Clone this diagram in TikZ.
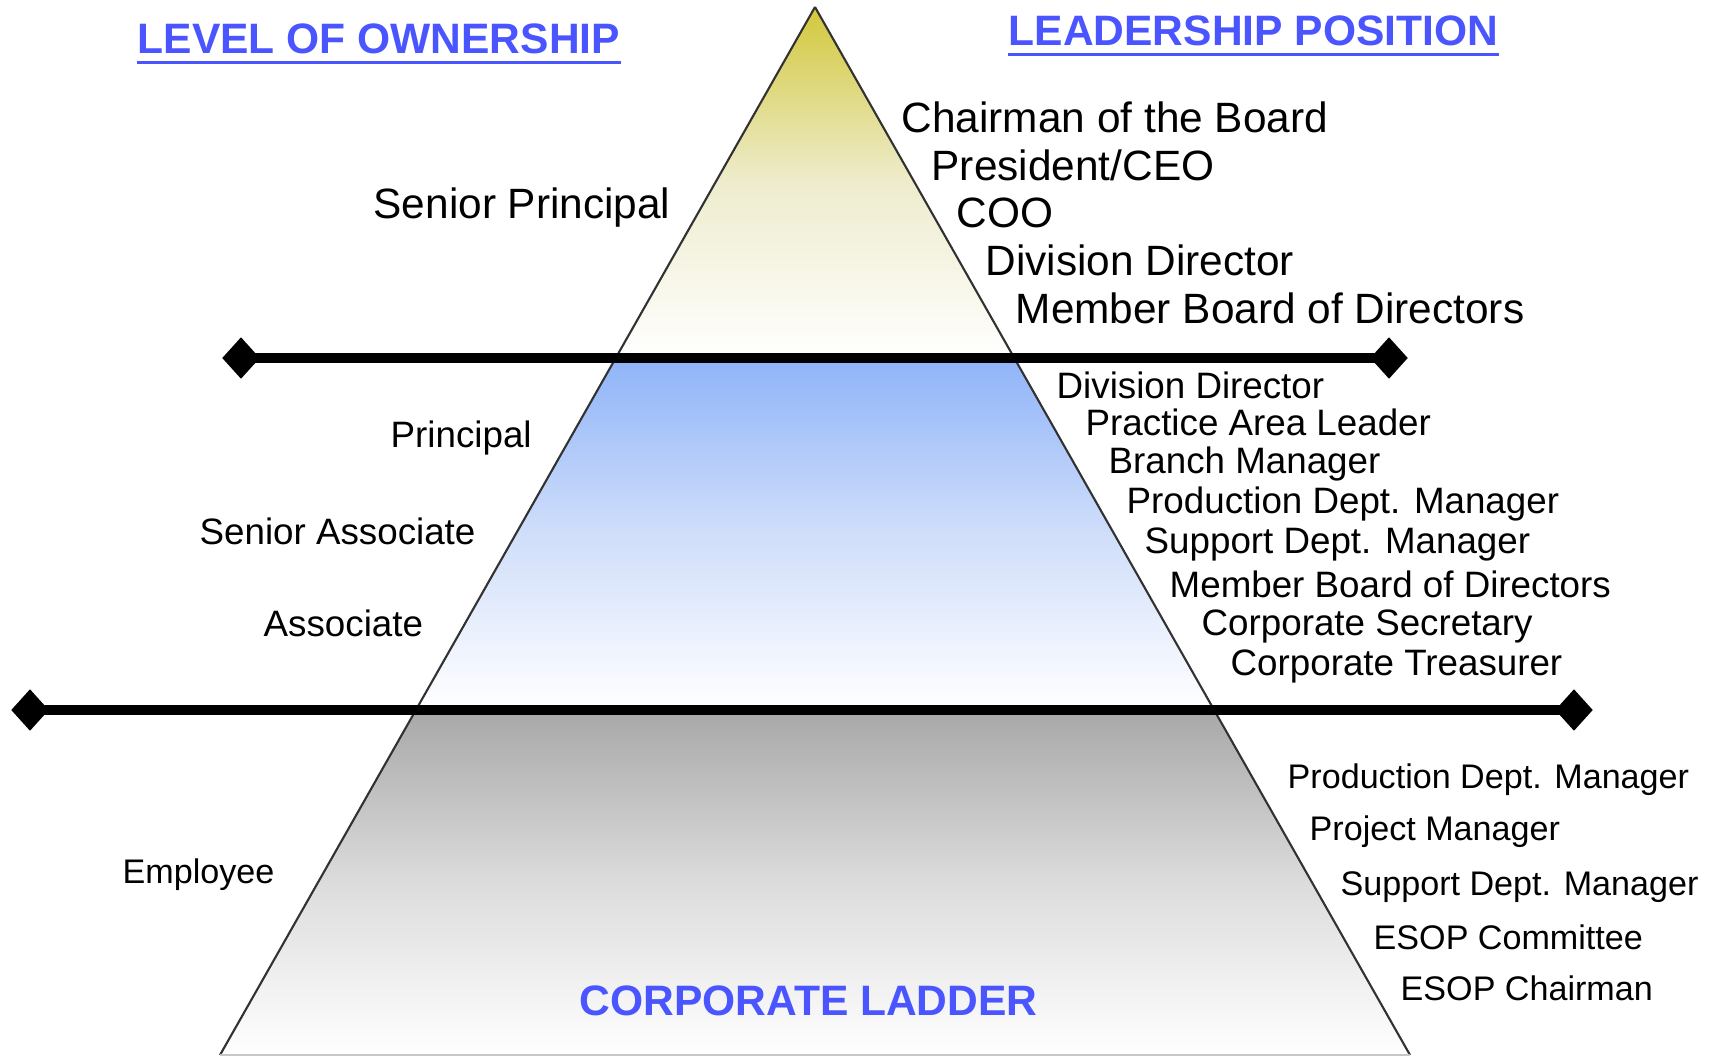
\documentclass[tikz,border=0pt]{standalone}
\usepackage{fontspec}
\setmainfont{Liberation Sans}
\usetikzlibrary{shapes.geometric}
\definecolor{headblue}{RGB}{74,85,255}
\definecolor{topyellow}{RGB}{210,200,60}
\definecolor{paleyellow}{RGB}{238,236,205}
\definecolor{midblue}{RGB}{143,180,248}
\definecolor{paleblue}{RGB}{208,222,250}
\definecolor{lowgray}{RGB}{168,168,168}
\definecolor{palegray}{RGB}{220,220,220}
\definecolor{edgegray}{RGB}{50,50,50}
\begin{document}
\begin{tikzpicture}
[x=0.01cm,y=-0.01cm,
 diam/.style={shape=diamond,fill=black,inner sep=0pt,minimum width=0.38cm,minimum height=0.42cm},
 barline/.style={-,line width=3.1pt},
 edgeline/.style={-,edgegray,line width=0.6pt},
 floorline/.style={-,black!22,line width=0.5pt},
 headtext/.style={anchor=base west,inner sep=0pt,text=headblue,font=\fontsize{12.1pt}{14pt}\selectfont\bfseries},
 ulline/.style={-,headblue,line width=0.8pt},
 bigtext/.style={anchor=base west,inner sep=0pt,font=\fontsize{12.05pt}{14pt}\selectfont},
 midtext/.style={anchor=base west,inner sep=0pt,font=\fontsize{10.45pt}{12pt}\selectfont},
 smalltext/.style={anchor=base west,inner sep=0pt,font=\fontsize{9.7pt}{11pt}\selectfont}]
\useasboundingbox (0,0) rectangle (1714,1056);
% corners of the pyramid
\coordinate (apex) at (815,7);
\coordinate (bl) at (220,1055);
\coordinate (br) at (1410,1055);
\coordinate (ul) at (615.7,358);
\coordinate (ur) at (1014.3,358);
\coordinate (ll) at (415.9,710);
\coordinate (lr) at (1214.1,710);
% bands
\shade[top color=topyellow,bottom color=white,middle color=paleyellow] (apex) -- (ul) -- (ur) -- cycle;
\shade[top color=midblue,bottom color=white,middle color=paleblue] (ul) -- (ll) -- (lr) -- (ur) -- cycle;
\shade[top color=lowgray,bottom color=white,middle color=palegray] (ll) -- (bl) -- (br) -- (lr) -- cycle;
\draw[edgeline] (apex) -- (bl);
\draw[edgeline] (apex) -- (br);
\draw[floorline] (bl) -- (br);
% bars
\node (a) at (241,358) [diam] {};
\node (b) at (1389,358) [diam] {};
\node (c) at (30,710) [diam] {};
\node (d) at (1574,710) [diam] {};
\draw[barline] (a.center) -- (b.center);
\draw[barline] (c.center) -- (d.center);
% headings
\node (own) at (137,53) [headtext] {LEVEL OF OWNERSHIP};
\draw[ulline] ([yshift=-2.6pt]own.base west) -- ([yshift=-2.6pt]own.base east);
\node (lead) at (1008,45) [headtext] {LEADERSHIP POSITION};
\draw[ulline] ([yshift=-2.6pt]lead.base west) -- ([yshift=-2.6pt]lead.base east);
\node (ladder) at (579,1015) [headtext] {CORPORATE LADDER};
% ownership levels
\node (sp) at (373,218) [bigtext] {Senior Principal};
\node (p) at (390,447) [midtext] {Principal};
\node (sa) at (199,544) [midtext] {Senior Associate};
\node (as) at (263,636) [midtext] {Associate};
\node (em) at (122,883) [smalltext] {Employee};
% top positions
\node (t1) at (901,132) [bigtext] {Chairman of the Board};
\node (t2) at (931,180) [bigtext] {President/CEO};
\node (t3) at (956,227) [bigtext] {COO};
\node (t4) at (985,275) [bigtext] {Division Director};
\node (t5) at (1015,323) [bigtext] {Member Board of Directors};
% middle positions
\node (m1) at (1056,398) [midtext] {Division Director};
\node (m2) at (1085,435) [midtext] {Practice Area Leader};
\node (m3) at (1108,473) [midtext] {Branch Manager};
\node (m4) at (1126,513) [midtext] {Production Dept. Manager};
\node (m5) at (1144,553) [midtext] {Support Dept. Manager};
\node (m6) at (1169,597) [midtext] {Member Board of Directors};
\node (m7) at (1201,635) [midtext] {Corporate Secretary};
\node (m8) at (1230,675) [midtext] {Corporate Treasurer};
% lower positions
\node (l1) at (1287,788) [smalltext] {Production Dept. Manager};
\node (l2) at (1309,840) [smalltext] {Project Manager};
\node (l3) at (1340,895) [smalltext] {Support Dept. Manager};
\node (l4) at (1373,949) [smalltext] {ESOP Committee};
\node (l5) at (1400,1000) [smalltext] {ESOP Chairman};
\end{tikzpicture}
\end{document}
